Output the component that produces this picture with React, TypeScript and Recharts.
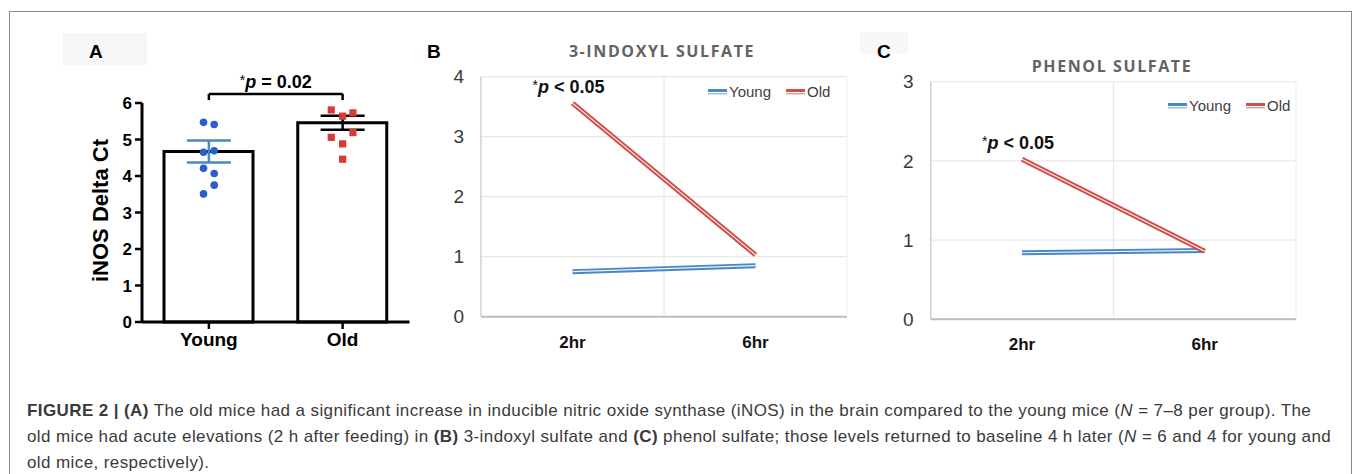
import React from "react";
import {
  ComposedChart,
  Bar,
  Scatter,
  ErrorBar,
  XAxis,
  YAxis,
  ReferenceLine,
  LineChart,
  Line,
  CartesianGrid,
  Legend,
  LabelList,
} from "recharts";

// panel A: iNOS delta Ct
const groups = ["Young", "Old"];
const groupMeans = [4.67, 5.46];
const groupSem = [0.3, 0.19];
const youngValues = [5.47, 5.41, 4.65, 4.69, 4.21, 4.07, 3.75, 3.51];
const youngJitter = [-0.04, 0.04, -0.04, 0.04, -0.04, 0.04, 0.04, -0.04];
const oldValues = [5.81, 5.64, 5.73, 5.06, 5.19, 4.88, 4.46];
const oldJitter = [-0.085, 0, 0.077, -0.085, 0.077, 0, 0];
const aTicks = [0, 1, 2, 3, 4, 5, 6];

// panels B and C: time course
const times = ["2hr", "6hr"];
const indoxylYoung = [0.75, 0.85];
const indoxylOld = [3.56, 1.03];
const phenolYoung = [0.84, 0.87];
const phenolOld = [2.02, 0.86];
const seriesOrder = ["Young", "Old"];

const BLUE = "#4a86c8";
const RED = "#cf4f4a";
const SANS = "'Liberation Sans', Arial, sans-serif";

const barData = groups.map((g, i) => ({ name: g, x: i + 1, y: groupMeans[i] }));
const youngDots = youngValues.map((v, i) => ({ x: 1 + youngJitter[i], y: v }));
const oldDots = oldValues.map((v, i) => ({ x: 2 + oldJitter[i], y: v }));
const youngMean = [{ x: 1, y: groupMeans[0], err: groupSem[0] }];
const oldMean = [{ x: 2, y: groupMeans[1], err: groupSem[1] }];

const timeData = (young: number[], old: number[]) =>
  times.map((t, i) => ({ x: i + 0.5, young: young[i], old: old[i] }));

const Dot = (props: any) => <circle cx={props.cx} cy={props.cy} r={3.8} fill="#2c5fc9" />;
const Square = (props: any) => (
  <rect x={props.cx - 3.6} y={props.cy - 3.6} width={7.2} height={7.2} fill="#d93a36" />
);
const Nothing = () => <g />;

const renderLegend = (props: any) => {
  const items = (props.payload || [])
    .filter((p: any) => p.type !== "none")
    .sort((a: any, b: any) => seriesOrder.indexOf(a.value) - seriesOrder.indexOf(b.value));
  return (
    <div style={{ display: "flex", fontFamily: SANS, fontSize: 15, color: "#404040" }}>
      {items.map((p: any) => (
        <span key={p.value} style={{ display: "flex", alignItems: "center", marginRight: 15 }}>
          <svg width={19} height={8}>
            <rect x={0} y={1} width={19} height={3} fill={p.color} />
            <rect x={0} y={5} width={19} height={1.5} fill={p.color} opacity={0.55} />
          </svg>
          <span style={{ marginLeft: 2 }}>{p.value}</span>
        </span>
      ))}
    </div>
  );
};

const pLabel = (props: any) => {
  if (props.index !== 0) return null;
  return (
    <text
      x={props.x - 4}
      y={props.y - 10}
      textAnchor="middle"
      fontFamily={SANS}
      fontSize={18}
      fontWeight="bold"
      fill="#111"
    >
      <tspan fontWeight="normal" fontSize={14} dy={-3}>*</tspan>
      <tspan fontStyle="italic" dy={3}>p</tspan>
      <tspan> &lt; 0.05</tspan>
    </text>
  );
};

function TimeChart(props: {
  young: number[];
  old: number[];
  max: number;
  width: number;
  yWidth: number;
  margin: any;
  legendTop: number;
}) {
  const data = timeData(props.young, props.old);
  const ticks = Array.from({ length: props.max + 1 }, (_, i) => i);
  return (
    <LineChart width={props.width} height={310} data={data} margin={props.margin}>
      <CartesianGrid vertical={false} stroke="#e4e4e4" />
      <ReferenceLine x={1} stroke="#e4e4e4" />
      <ReferenceLine x={2} stroke="#ededed" />
      <XAxis
        dataKey="x"
        type="number"
        domain={[0, 2]}
        ticks={[0.5, 1.5]}
        allowDataOverflow
        tickFormatter={(v: number) => times[Math.floor(v)]}
        axisLine={{ stroke: "#bdbdbd", strokeWidth: 2 }}
        tickLine={false}
        tickSize={0}
        tickMargin={19}
        height={40}
        tick={{ fill: "#111", fontSize: 17, fontWeight: "bold", fontFamily: SANS }}
      />
      <YAxis
        type="number"
        domain={[0, props.max]}
        ticks={ticks}
        width={props.yWidth}
        axisLine={{ stroke: "#d0d0d0", strokeWidth: 1.5 }}
        tickLine={false}
        tickSize={0}
        tickMargin={17}
        tick={{ fill: "#3a3a3a", fontSize: 19, fontFamily: SANS }}
      />
      <Legend
        content={renderLegend}
        layout="horizontal"
        align="center"
        verticalAlign="middle"
        wrapperStyle={{ top: props.legendTop, left: 308, width: "auto" }}
      />
      <Line dataKey="young" name="Young" stroke={BLUE} strokeWidth={5} dot={false} isAnimationActive={false} />
      <Line dataKey="young" legendType="none" stroke="#ffffff" strokeOpacity={0.9} strokeWidth={1.2} dot={false} isAnimationActive={false} />
      <Line dataKey="old" name="Old" stroke={RED} strokeWidth={5} dot={false} isAnimationActive={false} />
      <Line dataKey="old" legendType="none" stroke="#ffffff" strokeOpacity={0.9} strokeWidth={1.2} dot={false} isAnimationActive={false}>
        <LabelList dataKey="old" content={pLabel} />
      </Line>
    </LineChart>
  );
}

const abs = (left: number, top: number): React.CSSProperties => ({ position: "absolute", left, top });

export default function App() {
  return (
    <div
      style={{
        position: "absolute",
        left: 0,
        top: 0,
        width: 1355,
        height: 474,
        overflow: "hidden",
        background: "#fff",
        fontFamily: SANS,
      }}
    >
      <div
        style={{
          position: "absolute",
          left: 9,
          top: 11,
          width: 1341,
          height: 500,
          border: "1.5px solid #8a8a8a",
        }}
      />
      <div style={{ ...abs(63, 33), width: 84, height: 32, background: "#f6f6f6" }} />
      <div style={{ ...abs(860, 32), width: 48, height: 22, background: "#f8f8f8" }} />

      <div style={{ ...abs(89, 42), fontSize: 19, fontWeight: "bold", lineHeight: "20px" }}>A</div>
      <div style={{ ...abs(427, 42), fontSize: 19, fontWeight: "bold", lineHeight: "20px" }}>B</div>
      <div style={{ ...abs(877, 42), fontSize: 19, fontWeight: "bold", lineHeight: "20px" }}>C</div>

      <div
        style={{
          ...abs(512, 40),
          width: 300,
          textAlign: "center",
          fontFamily: "'Open Sans', sans-serif",
          fontWeight: "bold",
          fontSize: 16,
          letterSpacing: 1.6,
          color: "#636363",
          lineHeight: "22px",
        }}
      >
        3-INDOXYL SULFATE
      </div>
      <div
        style={{
          ...abs(962, 55),
          width: 300,
          textAlign: "center",
          fontFamily: "'Open Sans', sans-serif",
          fontWeight: "bold",
          fontSize: 16,
          letterSpacing: 1.6,
          color: "#636363",
          lineHeight: "22px",
        }}
      >
        PHENOL SULFATE
      </div>

      <div style={abs(60, 30)}>
        <ComposedChart width={360} height={330} data={barData} margin={{ top: 73, right: 10.5, bottom: 8, left: 0 }}>
          <XAxis
            dataKey="name"
            type="category"
            axisLine={{ stroke: "#000", strokeWidth: 3 }}
            tickLine={{ stroke: "#000", strokeWidth: 2.5 }}
            tickSize={7}
            tickMargin={4}
            height={30}
            tick={{ fill: "#000", fontSize: 19, fontWeight: "bold", fontFamily: SANS }}
          />
          <XAxis xAxisId="num" dataKey="x" type="number" domain={[0.5, 2.5]} allowDataOverflow hide />
          <YAxis
            type="number"
            domain={[0, 6]}
            ticks={aTicks}
            width={82}
            axisLine={{ stroke: "#000", strokeWidth: 3 }}
            tickLine={{ stroke: "#000", strokeWidth: 2.5 }}
            tickSize={7}
            tickMargin={3}
            tick={{ fill: "#000", fontSize: 17, fontWeight: "bold", fontFamily: SANS }}
            label={{
              content: (p: any) => {
                const vb = p.viewBox;
                const cx = vb.x + 40;
                const cy = vb.y + vb.height / 2 - 2;
                return (
                  <text
                    x={cx}
                    y={cy}
                    transform={`rotate(-90 ${cx} ${cy})`}
                    textAnchor="middle"
                    dominantBaseline="central"
                    fontFamily={SANS}
                    fontSize={22}
                    fontWeight="bold"
                    fill="#000"
                  >
                    iNOS Delta Ct
                  </text>
                );
              },
            }}
          />
          <Bar dataKey="y" fill="#fff" stroke="#000" strokeWidth={3} barSize={89} isAnimationActive={false} />
          <Scatter xAxisId="num" data={youngDots} dataKey="y" shape={Dot} isAnimationActive={false} />
          <Scatter xAxisId="num" data={oldDots} dataKey="y" shape={Square} isAnimationActive={false} />
          <Scatter xAxisId="num" data={youngMean} dataKey="y" shape={Nothing} isAnimationActive={false}>
            <ErrorBar dataKey="err" direction="y" width={22} stroke={BLUE} strokeWidth={2.5} />
          </Scatter>
          <Scatter xAxisId="num" data={oldMean} dataKey="y" shape={Nothing} isAnimationActive={false}>
            <ErrorBar dataKey="err" direction="y" width={22} stroke="#000" strokeWidth={2.5} />
          </Scatter>
          <ReferenceLine
            xAxisId="num"
            segment={[
              { x: 1, y: 6.25 },
              { x: 2, y: 6.25 },
            ]}
            stroke="#000"
            strokeWidth={2.5}
            ifOverflow="visible"
            label={{
              content: (p: any) => {
                const vb = p.viewBox;
                return (
                  <text
                    x={vb.x + vb.width / 2}
                    y={vb.y - 6}
                    textAnchor="middle"
                    fontFamily={SANS}
                    fontSize={18}
                    fontWeight="bold"
                    fill="#000"
                  >
                    <tspan fontWeight="normal" fontSize={14} dy={-3}>*</tspan>
                    <tspan fontStyle="italic" dy={3}>p</tspan>
                    <tspan> = 0.02</tspan>
                  </text>
                );
              },
            }}
          />
          <ReferenceLine
            xAxisId="num"
            segment={[
              { x: 1, y: 6.25 },
              { x: 1, y: 6.08 },
            ]}
            stroke="#000"
            strokeWidth={2.5}
            ifOverflow="visible"
          />
          <ReferenceLine
            xAxisId="num"
            segment={[
              { x: 2, y: 6.25 },
              { x: 2, y: 6.08 },
            ]}
            stroke="#000"
            strokeWidth={2.5}
            ifOverflow="visible"
          />
        </ComposedChart>
      </div>

      <div style={abs(400, 50)}>
        <TimeChart
          young={indoxylYoung}
          old={indoxylOld}
          max={4}
          width={460}
          yWidth={81}
          margin={{ top: 26.7, right: 13, bottom: 3.3, left: 0 }}
          legendTop={33}
        />
      </div>

      <div style={abs(860, 50)}>
        <TimeChart
          young={phenolYoung}
          old={phenolOld}
          max={3}
          width={480}
          yWidth={70.7}
          margin={{ top: 31.7, right: 44, bottom: 0.7, left: 0 }}
          legendTop={47}
        />
      </div>

      <div
        style={{
          ...abs(27, 398),
          fontSize: 17,
          letterSpacing: 0.4,
          lineHeight: "26px",
          color: "#3a3a3a",
          whiteSpace: "nowrap",
        }}
      >
        <div>
          <b>FIGURE 2 | (A)</b> The old mice had a significant increase in inducible nitric oxide synthase (iNOS) in the
          brain compared to the young mice (<i>N</i> = 7–8 per group). The
        </div>
        <div>
          old mice had acute elevations (2 h after feeding) in <b>(B)</b> 3-indoxyl sulfate and <b>(C)</b> phenol
          sulfate; those levels returned to baseline 4 h later (<i>N</i> = 6 and 4 for young and
        </div>
        <div>old mice, respectively).</div>
      </div>
    </div>
  );
}
